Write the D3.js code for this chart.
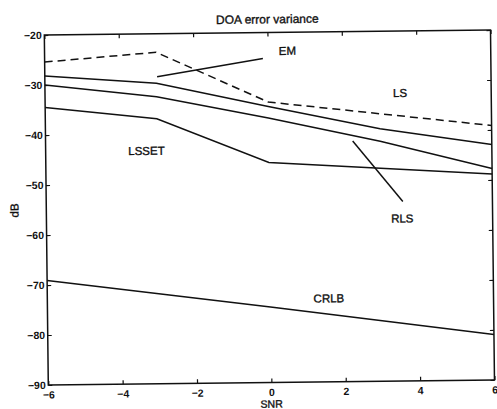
<!DOCTYPE html>
<html>
<head>
<meta charset="utf-8">
<script src="https://cdn.jsdelivr.net/npm/d3@7"></script>
<style>
  body { margin: 0; background: #fff; }
  svg { display: block; }
  text { font-family: "Liberation Sans", Arial, Helvetica, sans-serif; fill: #111; }
  .heavy { stroke: #111; stroke-width: 0.35px; }
</style>
</head>
<body>
<svg id="chart" width="497" height="409"></svg>
<script>
// SNR grid (dB) and error variance of each estimator (dB)
const snr    = [-6, -3, 0, 3, 6];
const lsVar    = [-25.4, -23.7, -33.9, -36.5, -39.1];  // dashed
const emVar    = [-28.2, -29.9, -34.8, -39.5, -42.9];
const rlsVar   = [-30.0, -32.6, -37.1, -42.0, -47.7];
const lssetVar = [-34.5, -37.0, -46.0, -47.4, -48.8];
const crlbVar  = [-69.1, -72.0, -74.9, -77.9, -80.9];

const xTicks = [-6, -4, -2, 0, 2, 4, 6];
const yTicks = [-20, -30, -40, -50, -60, -70, -80, -90];

// curve names placed in data coordinates, with optional leader lines
const labelNames = ["EM", "LS", "RLS", "LSSET", "CRLB"];
const labelX     = [0.30, 3.36, 3.27, -3.78, 1.16];
const labelY     = [-24.5, -33.2, -58.3, -44.2, -74.1];
const leaders = [
  { from: [-2.98, -28.6], to: [-0.13, -25.2] },  // EM
  { from: [2.26, -41.9],  to: [3.59, -54.1] }    // RLS
];

const W = 497, H = 409;
const plot = { left: 46.3, right: 492.5, top: 32.5, bottom: 382.5 };

const svg = d3.select("#chart");
svg.append("rect").attr("width", W).attr("height", H).attr("fill", "#fff");

// whole figure is drawn with a slight tilt
const cx = (plot.left + plot.right) / 2, cy = (plot.top + plot.bottom) / 2;
const g = svg.append("g").attr("transform", `rotate(-0.65 ${cx} ${cy})`);

const x = d3.scaleLinear().domain([-6, 6]).range([plot.left, plot.right]);
const y = d3.scaleLinear().domain([-90, -20]).range([plot.bottom, plot.top]);

const tickFont = "bold 10.5px 'Liberation Sans', Arial, sans-serif";

// axes with inward ticks on all four sides
const axB = g.append("g").attr("transform", `translate(0,${plot.bottom})`)
  .call(d3.axisBottom(x).tickValues(xTicks).tickSizeInner(-4).tickSizeOuter(0).tickPadding(6));
const axL = g.append("g").attr("transform", `translate(${plot.left},0)`)
  .call(d3.axisLeft(y).tickValues(yTicks).tickSizeInner(-4).tickSizeOuter(0).tickPadding(2.6));
const axT = g.append("g").attr("transform", `translate(0,${plot.top})`)
  .call(d3.axisTop(x).tickValues(xTicks).tickSizeInner(-4).tickSizeOuter(0).tickFormat(""));
const axR = g.append("g").attr("transform", `translate(${plot.right},0)`)
  .call(d3.axisRight(y).tickValues(yTicks).tickSizeInner(-4).tickSizeOuter(0).tickFormat(""));

[axB, axL, axT, axR].forEach(a => {
  a.select(".domain").remove();
  a.selectAll(".tick line").attr("stroke", "#111").attr("stroke-width", 1.2);
  a.selectAll(".tick text").style("font", tickFont).attr("fill", "#111");
});

// frame
g.append("rect")
  .attr("x", plot.left).attr("y", plot.top)
  .attr("width", plot.right - plot.left).attr("height", plot.bottom - plot.top)
  .attr("fill", "none").attr("stroke", "#111").attr("stroke-width", 1.5);

const line = d3.line().x(d => x(d[0])).y(d => y(d[1]));
const series = [
  { v: lsVar, dash: "8,5" },
  { v: emVar, dash: null },
  { v: rlsVar, dash: null },
  { v: lssetVar, dash: null },
  { v: crlbVar, dash: null }
];
series.forEach(s => {
  g.append("path")
    .datum(snr.map((t, i) => [t, s.v[i]]))
    .attr("d", line)
    .attr("fill", "none")
    .attr("stroke", "#111")
    .attr("stroke-width", 1.5)
    .attr("stroke-dasharray", s.dash);
});

leaders.forEach(l => {
  g.append("line")
    .attr("x1", x(l.from[0])).attr("y1", y(l.from[1]))
    .attr("x2", x(l.to[0])).attr("y2", y(l.to[1]))
    .attr("stroke", "#111").attr("stroke-width", 1.5);
});

labelNames.forEach((name, i) => {
  g.append("text")
    .attr("class", "heavy")
    .attr("x", x(labelX[i])).attr("y", y(labelY[i]))
    .style("font-size", "11.5px")
    .text(name);
});

// title and axis labels
g.append("text").attr("class", "heavy").attr("x", cx).attr("y", 23.3)
  .attr("text-anchor", "middle").style("font-size", "12px")
  .text("DOA error variance");
g.append("text").attr("class", "heavy").attr("x", cx).attr("y", 407.6)
  .attr("text-anchor", "middle").style("font-size", "10.5px")
  .text("SNR");
g.append("text").attr("class", "heavy").attr("transform", `translate(18.5,${cy}) rotate(-90)`)
  .attr("text-anchor", "middle").style("font-size", "11.5px")
  .text("dB");
</script>
</body>
</html>
